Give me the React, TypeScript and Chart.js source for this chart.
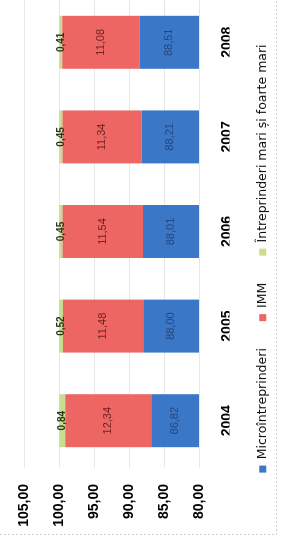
import React, { useEffect, useRef } from 'react';
import { Chart, registerables } from 'chart.js';

Chart.register(...registerables);

// ---- data ----
const years = ['2004', '2005', '2006', '2007', '2008'];
const seriesNames = ['Microîntreprinderi', 'IMM', 'Întreprinderi mari și foarte mari'];
const micro = [86.82, 88.0, 88.01, 88.21, 88.51];
const imm = [12.34, 11.48, 11.54, 11.34, 11.08];
const mari = [0.84, 0.52, 0.45, 0.45, 0.41];
const yMin = 80;
const yMax = 105;
const yStep = 5;

const seriesColors = ['#3a77c6', '#ee6664', '#c9dd8e'];
const labelColors = ['#26467c', '#6e2323', '#2c3517'];
const FONT = '"Liberation Sans", Arial, sans-serif';

const fmt = (v: number) => v.toFixed(2).replace('.', ',');

const valueLabels = {
  id: 'valueLabels',
  afterDatasetsDraw(chart: any) {
    const { ctx, chartArea } = chart;
    chart.data.datasets.forEach((ds: any, di: number) => {
      const meta = chart.getDatasetMeta(di);
      meta.data.forEach((el: any, i: number) => {
        const p = el.getProps(['x', 'y', 'base'], true);
        const top = Math.max(Math.min(p.y, p.base), chartArea.top);
        const bot = Math.min(Math.max(p.y, p.base), chartArea.bottom);
        const cy = (top + bot) / 2;
        ctx.save();
        ctx.font = di === 2 ? `bold 10px ${FONT}` : `11px ${FONT}`;
        ctx.fillStyle = labelColors[di];
        ctx.textAlign = 'center';
        ctx.textBaseline = 'middle';
        ctx.fillText(fmt(ds.data[i]), p.x, cy);
        ctx.restore();
      });
    });
  },
};

// faint outer frame of the chart object (left and bottom edges visible)
const frame = {
  id: 'frame',
  beforeDraw(chart: any) {
    const { ctx, width, height } = chart;
    ctx.save();
    ctx.strokeStyle = '#cfcfcf';
    ctx.lineWidth = 1;
    ctx.setLineDash([2, 2]);
    ctx.beginPath();
    ctx.moveTo(11.5, 0);
    ctx.lineTo(11.5, height - 4.5);
    ctx.lineTo(width, height - 4.5);
    ctx.stroke();
    ctx.restore();
  },
};

export default function App() {
  const ref = useRef<HTMLCanvasElement | null>(null);

  useEffect(() => {
    if (!ref.current) return;
    const chart = new Chart(ref.current, {
      type: 'bar',
      data: {
        labels: years,
        datasets: [
          { label: seriesNames[0], data: micro, backgroundColor: seriesColors[0] },
          { label: seriesNames[1], data: imm, backgroundColor: seriesColors[1] },
          { label: seriesNames[2], data: mari, backgroundColor: seriesColors[2] },
        ],
      },
      options: {
        responsive: false,
        animation: false,
        devicePixelRatio: 1,
        datasets: { bar: { categoryPercentage: 1, barPercentage: 0.56 } },
        layout: { padding: { top: 20, bottom: 2, left: 0, right: 0 } },
        plugins: {
          legend: {
            position: 'bottom',
            labels: {
              boxWidth: 7,
              boxHeight: 7,
              padding: 27,
              color: '#111',
              font: { family: 'DejaVu Sans', size: 12.5 },
            },
          },
          tooltip: { enabled: false },
        },
        scales: {
          x: {
            stacked: true,
            grid: { display: false, drawTicks: false },
            border: { display: false },
            ticks: {
              color: '#000',
              padding: 19.5,
              maxRotation: 0,
              minRotation: 0,
              autoSkip: false,
              font: { family: FONT, size: 14, weight: 'bold' },
            },
            afterFit: (s: any) => {
              s.height = 30.5;
            },
          },
          y: {
            stacked: true,
            min: yMin,
            max: yMax,
            ticks: {
              stepSize: yStep,
              color: '#000',
              padding: 16,
              font: { family: FONT, size: 14, weight: 'bold' },
              callback: (v: any) => fmt(Number(v)),
            },
            grid: { color: '#e6e6e6', drawTicks: false },
            border: { display: false },
            afterFit: (s: any) => {
              s.width = 78;
            },
          },
          yR: {
            type: 'linear',
            position: 'right',
            display: true,
            grid: { display: false, drawTicks: false },
            ticks: { display: false },
            border: { display: false },
            afterFit: (s: any) => {
              s.width = 24;
            },
          },
        },
      } as any,
      plugins: [valueLabels, frame],
    });
    return () => chart.destroy();
  }, []);

  return (
    <div
      style={{
        position: 'fixed',
        left: 0,
        top: 0,
        width: 575,
        height: 281,
        background: '#fff',
        transformOrigin: '0 0',
        transform: 'translate(0px, 546px) rotate(-90deg)',
      }}
    >
      <canvas ref={ref} width={575} height={281} />
    </div>
  );
}
